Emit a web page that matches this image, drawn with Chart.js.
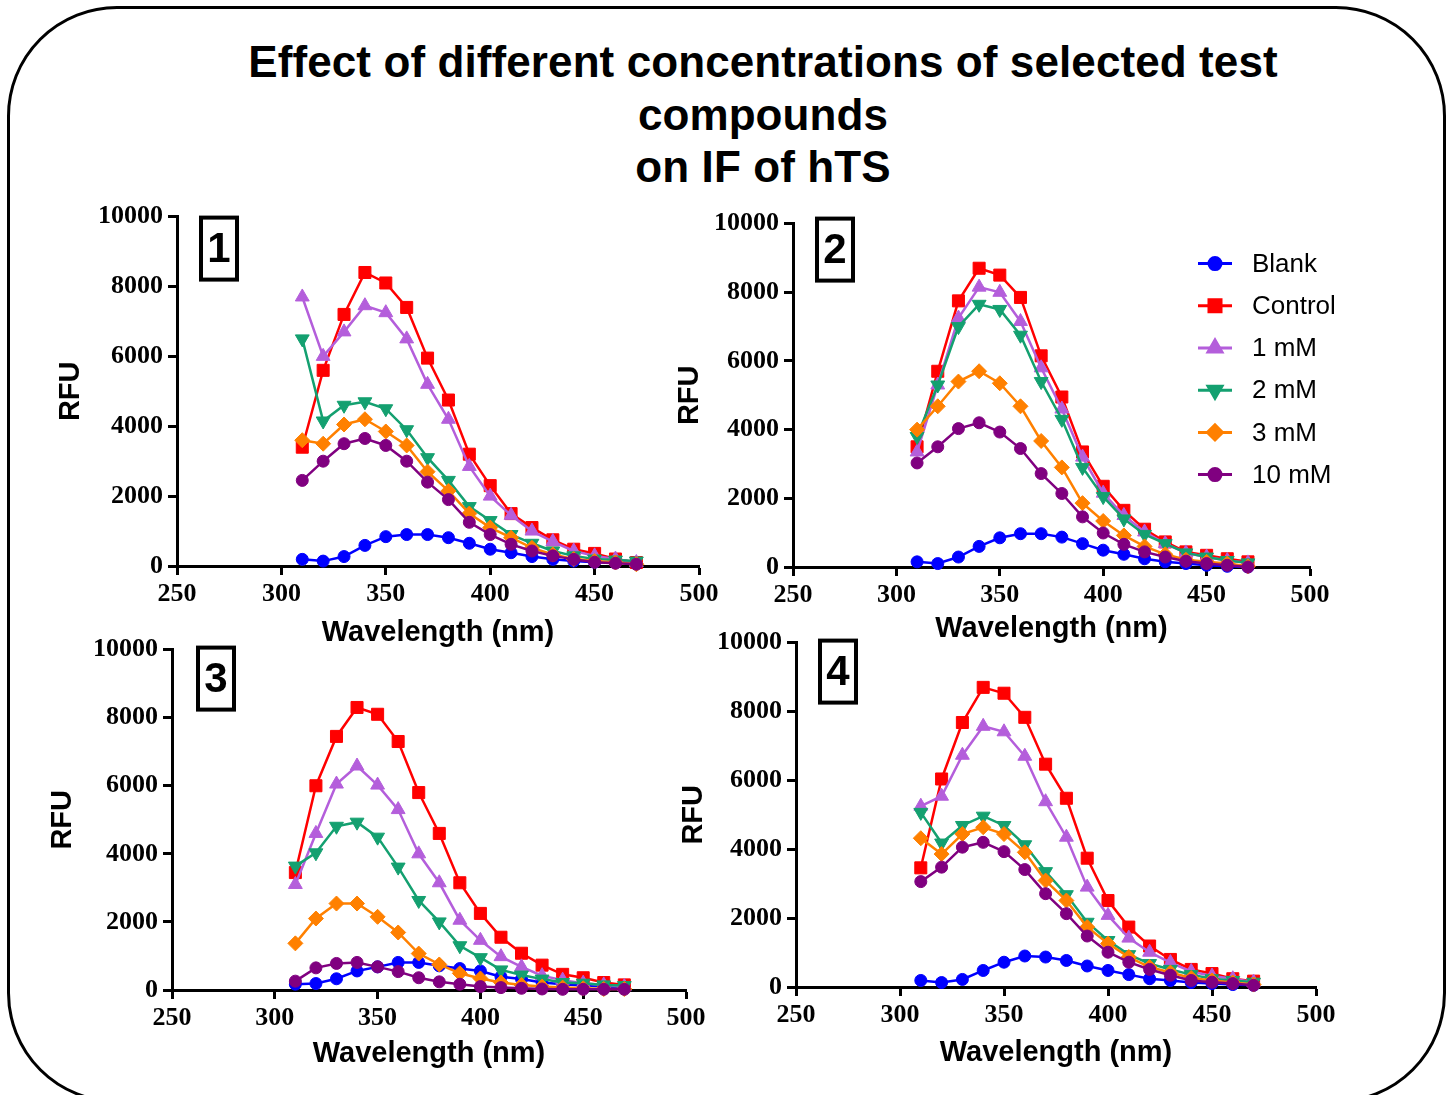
<!DOCTYPE html>
<html>
<head>
<meta charset="utf-8">
<title>Effect of different concentrations of selected test compounds on IF of hTS</title>
<script src="https://cdn.jsdelivr.net/npm/chart.js@4.4.1/dist/chart.umd.min.js"></script>
<style>
    html, body { margin: 0; padding: 0; background: #fff; }
    body { width: 1450px; height: 1095px; position: relative; overflow: hidden; }
    #frame {
        position: absolute; left: 7px; top: 6px; width: 1439px; height: 1097px;
        box-sizing: border-box; border: 3px solid #000; border-radius: 110px;
    }
    #title {
        position: absolute; left: 163px; top: 36px; width: 1200px; text-align: center;
        font: bold 44px/52.5px "Liberation Sans", Arial, sans-serif; color: #000; white-space: nowrap;
        letter-spacing: 0.1px;
    }
    canvas { position: absolute; }
</style>
</head>
<body>
<div id="frame"></div>
<div id="title">Effect of different concentrations of selected test<br>compounds<br>on IF of hTS</div>
<canvas id="panel1"></canvas>
<canvas id="panel2"></canvas>
<canvas id="panel3"></canvas>
<canvas id="panel4"></canvas>
<script>
// x values (nm) shared by every curve
const wavelengths = [310, 320, 330, 340, 350, 360, 370, 380, 390, 400, 410, 420, 430, 440, 450, 460, 470];
const seriesNames = ["Blank", "Control", "1 mM", "2 mM", "3 mM", "10 mM"];
const xTicks = [250, 300, 350, 400, 450, 500];
const yTicks = [0, 2000, 4000, 6000, 8000, 10000];

// panel 1
const p1Blank   = [190, 140, 270, 590, 840, 900, 900, 810, 650, 480, 380, 270, 190, 140, 110, 100, 80];
const p1Control = [3400, 5600, 7200, 8400, 8100, 7400, 5950, 4750, 3200, 2300, 1500, 1100, 750, 480, 360, 200, 100];
const p1mM1     = [7700, 6000, 6700, 7450, 7250, 6500, 5200, 4200, 2850, 2000, 1450, 1000, 700, 430, 290, 200, 100];
const p1mM2     = [6500, 4150, 4600, 4700, 4500, 3900, 3100, 2450, 1700, 1300, 900, 650, 430, 290, 200, 170, 140];
const p1mM3     = [3600, 3500, 4050, 4200, 3850, 3450, 2700, 2150, 1500, 1100, 810, 520, 330, 200, 140, 100, 50];
const p1mM10    = [2450, 3000, 3500, 3650, 3450, 3000, 2400, 1900, 1250, 900, 620, 430, 290, 190, 110, 80, 50];

// panel 2
const p2Blank   = [150, 100, 290, 600, 850, 970, 970, 870, 680, 490, 370, 240, 150, 100, 50, 20, 0];
const p2Control = [3500, 5700, 7750, 8700, 8500, 7850, 6150, 4950, 3350, 2350, 1650, 1100, 730, 440, 340, 240, 150];
const p2mM1     = [3350, 5300, 7250, 8150, 8000, 7150, 5800, 4600, 3200, 2150, 1500, 1020, 680, 410, 290, 190, 120];
const p2mM2     = [3800, 5300, 7000, 7650, 7500, 6750, 5400, 4300, 2900, 2050, 1400, 950, 680, 410, 290, 190, 120];
const p2mM3     = [4000, 4680, 5400, 5700, 5350, 4680, 3670, 2900, 1860, 1340, 920, 600, 370, 210, 150, 100, 20];
const p2mM10    = [3030, 3500, 4030, 4200, 3930, 3450, 2720, 2140, 1460, 990, 660, 440, 290, 170, 100, 50, 0];

// panel 3
const p3Blank   = [170, 190, 330, 560, 680, 810, 810, 710, 630, 560, 390, 320, 220, 170, 130, 100, 70];
const p3Control = [3450, 6000, 7450, 8300, 8100, 7300, 5800, 4600, 3150, 2250, 1550, 1080, 730, 460, 360, 220, 150];
const p3mM1     = [3100, 4600, 6050, 6580, 6020, 5300, 4000, 3150, 2050, 1460, 980, 680, 420, 290, 200, 150, 100];
const p3mM2     = [3640, 4030, 4810, 4930, 4490, 3610, 2630, 2000, 1300, 950, 590, 440, 320, 220, 200, 150, 130];
const p3mM3     = [1370, 2100, 2540, 2540, 2150, 1690, 1070, 750, 490, 340, 220, 150, 100, 70, 50, 30, 30];
const p3mM10    = [260, 650, 780, 810, 680, 540, 360, 240, 170, 100, 70, 50, 30, 20, 20, 20, 20];

// panel 4
const p4Blank   = [190, 130, 220, 480, 720, 900, 870, 770, 610, 480, 360, 240, 190, 130, 100, 70, 50];
const p4Control = [3460, 6040, 7680, 8700, 8530, 7830, 6470, 5480, 3740, 2510, 1740, 1190, 800, 510, 390, 240, 170];
const p4mM1     = [5250, 5540, 6730, 7570, 7410, 6700, 5380, 4350, 2900, 2080, 1420, 1010, 710, 450, 320, 240, 140];
const p4mM2     = [5070, 4180, 4690, 4960, 4690, 4130, 3350, 2680, 1880, 1350, 940, 680, 510, 360, 240, 190, 140];
const p4mM3     = [4320, 3860, 4440, 4640, 4440, 3910, 3090, 2510, 1740, 1260, 870, 580, 420, 260, 190, 130, 70];
const p4mM10    = [3060, 3480, 4060, 4200, 3930, 3410, 2710, 2130, 1480, 1010, 720, 510, 340, 190, 140, 100, 50];

const seriesColors = ["#0000ff", "#ff0000", "#b45edb", "#14a070", "#ff8000", "#800080"];
const seriesMarkers = ["circle", "rect", "triangle", "triangle", "rectRot", "circle"];
const markerRotation = [0, 0, 0, 180, 0, 0];
const markerRadius = [6, 8.5, 8, 8, 7.5, 6];

const SANS = '"Liberation Sans", Arial, sans-serif';
const SERIF = '"Liberation Serif", "Times New Roman", serif';

// canvas placement; chart area ends up at (left + axisWidth, top + 20)
const panels = [
    { id: "panel1", label: "1", values: [p1Blank, p1Control, p1mM1, p1mM2, p1mM3, p1mM10],
      left: 56, top: 196, plotW: 522, plotH: 350, axisWidth: 121, axisHeight: 81, padRight: 30, box: [24, 1], legend: false },
    { id: "panel2", label: "2", values: [p2Blank, p2Control, p2mM1, p2mM2, p2mM3, p2mM10],
      left: 675, top: 203, plotW: 517, plotH: 344, axisWidth: 118, axisHeight: 76, padRight: 60, box: [24, -5], legend: true },
    { id: "panel3", label: "3", values: [p3Blank, p3Control, p3mM1, p3mM2, p3mM3, p3mM10],
      left: 48, top: 629, plotW: 514, plotH: 341, axisWidth: 124, axisHeight: 78, padRight: 30, box: [26, -2], legend: false },
    { id: "panel4", label: "4", values: [p4Blank, p4Control, p4mM1, p4mM2, p4mM3, p4mM10],
      left: 679, top: 622, plotW: 520, plotH: 345, axisWidth: 117, axisHeight: 80, padRight: 30, box: [24, -2], legend: false }
];

function drawMarker(ctx, i, x, y) {
    ctx.fillStyle = seriesColors[i];
    ctx.strokeStyle = seriesColors[i];
    Chart.helpers.drawPoint(ctx, {
        pointStyle: seriesMarkers[i],
        rotation: markerRotation[i],
        radius: markerRadius[i],
        borderWidth: 1
    }, x, y);
}

const panelDecor = {
    id: "panelDecor",
    afterDraw(chart, args, opts) {
        const ctx = chart.ctx;
        const area = chart.chartArea;
        ctx.save();
        // numbered box
        const bx = area.left + opts.box[0];
        const by = area.top + opts.box[1];
        ctx.lineWidth = 4;
        ctx.strokeStyle = "#000";
        ctx.strokeRect(bx, by, 36, 62);
        ctx.fillStyle = "#000";
        ctx.font = "bold 42px " + SANS;
        ctx.textAlign = "center";
        ctx.textBaseline = "middle";
        ctx.fillText(opts.label, bx + 18, by + 33);

        if (opts.legend) {
            ctx.font = "26px " + SANS;
            ctx.textAlign = "left";
            seriesNames.forEach((name, i) => {
                const y = area.top + 40 + i * 42.2;
                const x0 = area.left + 405;
                ctx.strokeStyle = seriesColors[i];
                ctx.lineWidth = 3;
                ctx.beginPath();
                ctx.moveTo(x0, y);
                ctx.lineTo(x0 + 34, y);
                ctx.stroke();
                drawMarker(ctx, i, x0 + 17, y);
                ctx.fillStyle = "#000";
                ctx.fillText(name, x0 + 54, y + 1);
            });
        }
        ctx.restore();
    }
};

function axisStyle() {
    return {
        grid: { display: true, drawOnChartArea: false, drawTicks: true, tickLength: 9, tickWidth: 3, color: "#000" },
        border: { display: true, width: 3, color: "#000" },
        ticks: {
            color: "#000",
            font: { family: SERIF, size: 26, weight: "bold" },
            padding: 5,
            callback: v => String(v)
        }
    };
}

function buildPanel(p) {
    const canvas = document.getElementById(p.id);
    const width = p.axisWidth + p.plotW + p.padRight;
    const height = 20 + p.plotH + p.axisHeight;
    canvas.width = width;
    canvas.height = height;
    canvas.style.left = p.left + "px";
    canvas.style.top = p.top + "px";
    canvas.style.width = width + "px";
    canvas.style.height = height + "px";

    const datasets = seriesNames.map((name, i) => ({
        label: name,
        data: wavelengths.map((w, k) => ({ x: w, y: p.values[i][k] })),
        borderColor: seriesColors[i],
        backgroundColor: seriesColors[i],
        borderWidth: 2.5,
        pointStyle: seriesMarkers[i],
        pointRotation: markerRotation[i],
        pointRadius: markerRadius[i],
        pointHoverRadius: markerRadius[i],
        pointBackgroundColor: seriesColors[i],
        pointBorderColor: seriesColors[i],
        pointBorderWidth: 1,
        tension: 0,
        clip: false,
        order: seriesNames.length - i
    }));

    const xAxis = axisStyle();
    xAxis.ticks.padding = 4;
    const yAxis = axisStyle();

    new Chart(canvas.getContext("2d"), {
        type: "line",
        data: { datasets },
        options: {
            responsive: false,
            animation: false,
            devicePixelRatio: 1,
            layout: { padding: { left: 0, top: 20, right: p.padRight, bottom: 0 } },
            plugins: {
                legend: { display: false },
                tooltip: { enabled: false },
                panelDecor: { label: p.label, box: p.box, legend: p.legend }
            },
            scales: {
                x: Object.assign(xAxis, {
                    type: "linear",
                    min: xTicks[0],
                    max: xTicks[xTicks.length - 1],
                    afterBuildTicks: s => { s.ticks = xTicks.map(v => ({ value: v })); },
                    afterFit: s => { s.height = p.axisHeight; },
                    title: { display: true, text: "Wavelength (nm)", color: "#000", padding: 0,
                             font: { family: SANS, size: 29, weight: "bold", lineHeight: 1 } }
                }),
                y: Object.assign(yAxis, {
                    type: "linear",
                    min: yTicks[0],
                    max: yTicks[yTicks.length - 1],
                    afterBuildTicks: s => { s.ticks = yTicks.map(v => ({ value: v })); },
                    afterFit: s => { s.width = p.axisWidth; },
                    title: { display: true, text: "RFU", color: "#000", padding: 0,
                             font: { family: SANS, size: 29, weight: "bold", lineHeight: 1 } }
                })
            }
        },
        plugins: [panelDecor]
    });
}

panels.forEach(buildPanel);
</script>
</body>
</html>
